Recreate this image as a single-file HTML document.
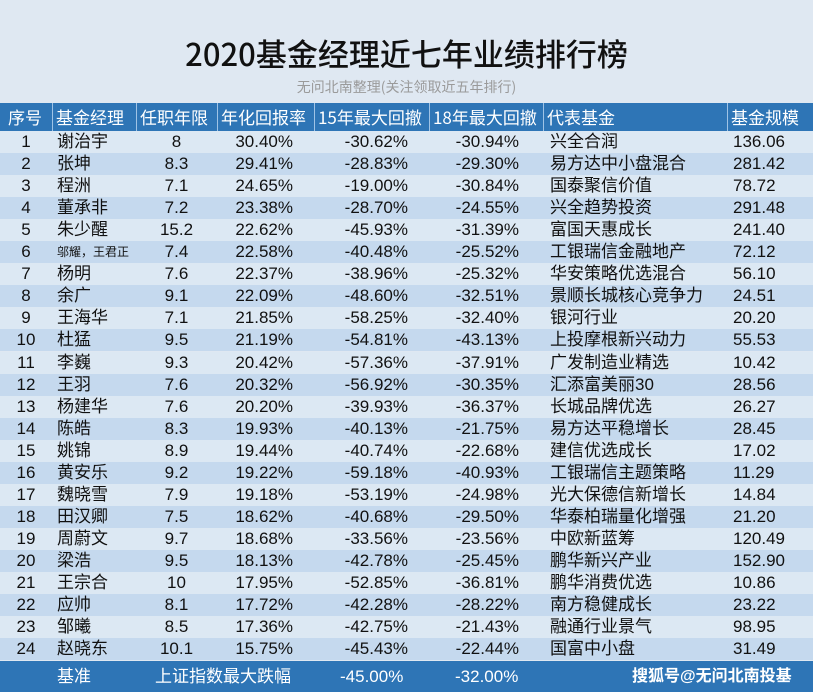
<!DOCTYPE html>
<html><head><meta charset="utf-8"><style>
body{margin:0;width:813px;height:692px;background:#dfe8f2;position:relative;overflow:hidden;font-family:"Liberation Sans","Noto Sans CJK SC",sans-serif}
.t{position:absolute;white-space:nowrap}
#title{left:0;width:813px;text-align:center;top:30px;font-size:31px;color:#111;font-family:"Noto Sans CJK SC",sans-serif;font-weight:500;letter-spacing:0px}
#sub{left:0;width:813px;text-align:center;top:77px;font-size:14px;color:#9a9a9a;font-family:"Noto Sans CJK SC",sans-serif}
#hdr{position:absolute;left:0;top:103px;width:813px;height:28px;background:#2e75b6}
.row{position:absolute;left:0;width:813px;height:22px}
.c{position:absolute;top:0;height:22px;line-height:22px;font-size:17px;color:#111}
.h{position:absolute;top:0;height:28px;line-height:28px;font-size:17px;color:#fff;font-family:"Noto Sans CJK SC",sans-serif;border-left:1px solid #9fc3e6;padding-left:3px;box-sizing:border-box}
#foot{position:absolute;left:0;top:661px;width:813px;height:31px;background:#2e75b6}
.f{position:absolute;top:0;line-height:31px;color:#fff;font-size:17px}
</style></head><body>
<div class="t" id="title">2020基金经理近七年业绩排行榜</div>
<div class="t" id="sub">无问北南整理(关注领取近五年排行)</div>
<div id="hdr">
<div class="h" style="left:0;width:52px;border-left:none;padding-left:8px">序号</div>
<div class="h" style="left:52px;width:84px">基金经理</div>
<div class="h" style="left:136px;width:81px">任职年限</div>
<div class="h" style="left:217px;width:97px">年化回报率</div>
<div class="h" style="left:314px;width:115px">15年最大回撤</div>
<div class="h" style="left:429px;width:114px">18年最大回撤</div>
<div class="h" style="left:543px;width:184px">代表基金</div>
<div class="h" style="left:727px;width:86px">基金规模</div>
</div>
<div id="rows"></div>
<div id="foot">
<div class="f" style="left:57px">基准</div>
<div class="f" style="left:155px">上证指数最大跌幅</div>
<div class="f" style="left:340px">-45.00%</div>
<div class="f" style="left:455px">-32.00%</div>
<div class="f" style="left:632px;font-weight:bold;font-size:16px">搜狐号@无问北南投基</div>
</div>
<script>
const managers=["谢治宇","张坤","程洲","董承非","朱少醒","邬耀，王君正","杨明","余广","王海华","杜猛","李巍","王羽","杨建华","陈皓","姚锦","黄安乐","魏晓雪","田汉卿","周蔚文","梁浩","王宗合","应帅","邹曦","赵晓东"];
const tenure=["8","8.3","7.1","7.2","15.2","7.4","7.6","9.1","7.1","9.5","9.3","7.6","7.6","8.3","8.9","9.2","7.9","7.5","9.7","9.5","10","8.1","8.5","10.1"];
const annual=["30.40%","29.41%","24.65%","23.38%","22.62%","22.58%","22.37%","22.09%","21.85%","21.19%","20.42%","20.32%","20.20%","19.93%","19.44%","19.22%","19.18%","18.62%","18.68%","18.13%","17.95%","17.72%","17.36%","15.75%"];
const dd15=["-30.62%","-28.83%","-19.00%","-28.70%","-45.93%","-40.48%","-38.96%","-48.60%","-58.25%","-54.81%","-57.36%","-56.92%","-39.93%","-40.13%","-40.74%","-59.18%","-53.19%","-40.68%","-33.56%","-42.78%","-52.85%","-42.28%","-42.75%","-45.43%"];
const dd18=["-30.94%","-29.30%","-30.84%","-24.55%","-31.39%","-25.52%","-25.32%","-32.51%","-32.40%","-43.13%","-37.91%","-30.35%","-36.37%","-21.75%","-22.68%","-40.93%","-24.98%","-29.50%","-23.56%","-25.45%","-36.81%","-28.22%","-21.43%","-22.44%"];
const funds=["兴全合润","易方达中小盘混合","国泰聚信价值","兴全趋势投资","富国天惠成长","工银瑞信金融地产","华安策略优选混合","景顺长城核心竞争力","银河行业","上投摩根新兴动力","广发制造业精选","汇添富美丽30","长城品牌优选","易方达平稳增长","建信优选成长","工银瑞信主题策略","光大保德信新增长","华泰柏瑞量化增强","中欧新蓝筹","鹏华新兴产业","鹏华消费优选","南方稳健成长","融通行业景气","国富中小盘"];
const sizes=["136.06","281.42","78.72","291.48","241.40","72.12","56.10","24.51","20.20","55.53","10.42","28.56","26.27","28.45","17.02","11.29","14.84","21.20","120.49","152.90","10.86","23.22","98.95","31.49"];
const cont=document.getElementById('rows');
function cell(row,text,style,name){const d=document.createElement('div');d.className='c';d.style.cssText=style;d.textContent=text;


row.appendChild(d);}
for(let i=0;i<managers.length;i++){
const r=document.createElement('div');r.className='row';
r.style.top=(131+i*22.05)+'px';r.style.background=i%2?'#c5d9ee':'#dce8f3';


cell(r,String(i+1),'left:0;width:52px;text-align:center','rank');
const m=managers[i];
cell(r,m,'left:57px;'+(m.length>4?'font-size:12px;':''),'manager-name');
cell(r,tenure[i],'left:136px;width:81px;text-align:center','tenure');
cell(r,annual[i],'left:217px;width:76px;text-align:right','annual-return');
cell(r,dd15[i],'left:314px;width:94px;text-align:right','drawdown-15');
cell(r,dd18[i],'left:429px;width:90px;text-align:right','drawdown-18');
cell(r,funds[i],'left:550px','fund-name');
cell(r,sizes[i],'left:733px','fund-size');
cont.appendChild(r);}
</script>
</body></html>
